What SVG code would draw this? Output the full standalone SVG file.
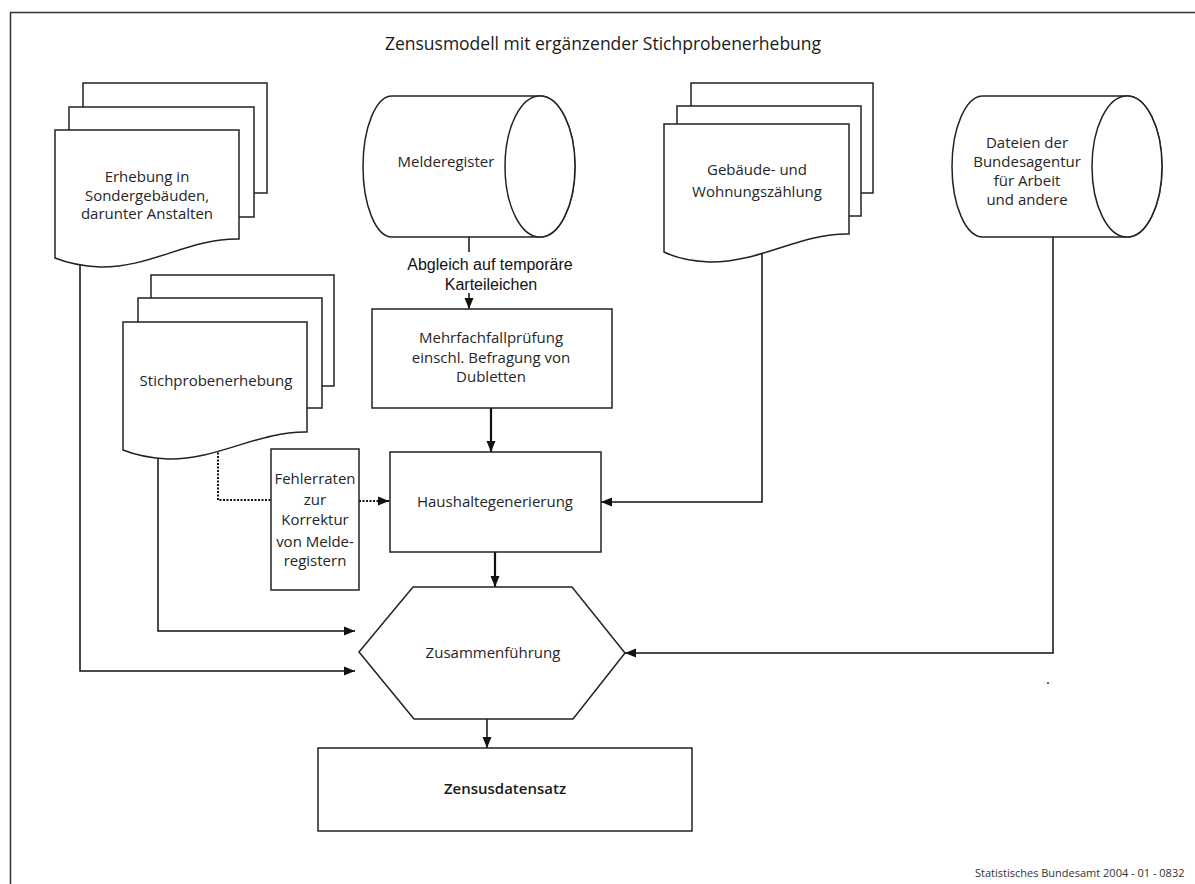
<svg xmlns="http://www.w3.org/2000/svg" width="1195" height="884" viewBox="0 0 1195 884">
<style>
.shape{fill:#fff;stroke:#222;stroke-width:1.5}
.t{font-family:"Open Sans","Noto Sans",sans-serif;font-size:15px;fill:#262626;text-anchor:middle}
.a{font-family:"Liberation Sans",Arial,sans-serif;font-size:16px;fill:#111;text-anchor:middle}
.c{fill:none;stroke:#111;stroke-width:1.5}
.thick{stroke-width:2.2}
.dot{fill:none;stroke:#111;stroke-width:2;stroke-dasharray:2 1.5}
</style>
<defs>
<marker id="ah" markerUnits="userSpaceOnUse" markerWidth="12" markerHeight="10" refX="11" refY="5" orient="auto">
<path d="M0,0.5 L11,5 L0,9.5 Z" fill="#111"/>
</marker>
</defs>
<rect width="1195" height="884" fill="#fff"/>
<rect x="10.5" y="12.5" width="1200" height="900" fill="none" stroke="#333" stroke-width="1.5"/>
<text x="603" y="50" class="t" style="font-size:17.5px;fill:#1a1a1a">Zensusmodell mit ergänzender Stichprobenerhebung</text>

<g id="connectors">
<path class="c" d="M80,263 V671 H355" marker-end="url(#ah)"/>
<path class="c" d="M158,457 V631 H355" marker-end="url(#ah)"/>
<path class="dot" d="M218,449 V500 H271"/>
<path class="dot" d="M359,501 H389" marker-end="url(#ah)"/>
<path class="c" d="M469,237 V252"/>
<path class="c" d="M469,293 V309" marker-end="url(#ah)"/>
<path class="c thick" d="M491,408 V452" marker-end="url(#ah)"/>
<path class="c" d="M762,253 V502 H601" marker-end="url(#ah)"/>
<path class="c thick" d="M495,552 V587" marker-end="url(#ah)"/>
<path class="c" d="M1053,237 V653 H625" marker-end="url(#ah)"/>
<path class="c" d="M487,719 V748" marker-end="url(#ah)"/>
</g>

<g id="erhebung">
<rect class="shape" x="83" y="83" width="184" height="110"/>
<rect class="shape" x="69" y="107" width="185" height="110"/>
<path class="shape" d="M55,130 H239 V239 C190,238 150,268 100,267 C80,266 65,262 55,258 Z"/>
<text class="t" x="147" y="182">Erhebung in</text>
<text class="t" x="147" y="201">Sondergebäuden,</text>
<text class="t" x="147" y="219">darunter Anstalten</text>
</g>

<g id="melderegister">
<path class="shape" d="M392,96 H540 A35,70.5 0 0 1 540,237 H392 A29,70.5 0 0 1 392,96 Z"/>
<ellipse class="shape" cx="540" cy="166.5" rx="35" ry="70.5"/>
<text class="t" x="446" y="167">Melderegister</text>
</g>

<g id="abgleich-label">
<text class="a" x="490" y="270">Abgleich auf temporäre</text>
<text class="a" x="491" y="290">Karteileichen</text>
</g>

<g id="gebaeude">
<rect class="shape" x="691" y="83" width="182" height="110"/>
<rect class="shape" x="677" y="106" width="184" height="110"/>
<path class="shape" d="M664,124 H849 V234 C800,233 760,263 709,262 C689,261 674,257 664,252 Z"/>
<text class="t" x="757" y="175">Gebäude- und</text>
<text class="t" x="757" y="197">Wohnungszählung</text>
</g>

<g id="dateien">
<path class="shape" d="M983,96 H1127 A35,70.5 0 0 1 1127,237 H983 A31,70.5 0 0 1 983,96 Z"/>
<ellipse class="shape" cx="1127" cy="166.5" rx="35" ry="70.5"/>
<text class="t" x="1027" y="148">Dateien der</text>
<text class="t" x="1027" y="167">Bundesagentur</text>
<text class="t" x="1027" y="186">für Arbeit</text>
<text class="t" x="1027" y="205">und andere</text>
</g>

<g id="stichprobe">
<rect class="shape" x="151" y="275" width="183" height="111"/>
<rect class="shape" x="138" y="298" width="184" height="110"/>
<path class="shape" d="M123,322 H307 V432 C258,431 218,460 168,459 C148,458 133,454 123,450 Z"/>
<text class="t" x="216" y="386">Stichprobenerhebung</text>
</g>

<g id="mehrfach">
<rect class="shape" x="372" y="309" width="240" height="99"/>
<text class="t" x="491" y="343">Mehrfachfallprüfung</text>
<text class="t" x="491" y="363">einschl. Befragung von</text>
<text class="t" x="491" y="382">Dubletten</text>
</g>

<g id="fehlerraten">
<rect class="shape" x="271" y="449" width="88" height="141"/>
<text class="t" x="315" y="484">Fehlerraten</text>
<text class="t" x="315" y="505">zur</text>
<text class="t" x="315" y="525">Korrektur</text>
<text class="t" x="315" y="547">von Melde-</text>
<text class="t" x="315" y="566">registern</text>
</g>

<g id="haushalte">
<rect class="shape" x="390" y="452" width="211" height="100"/>
<text class="t" x="495" y="507">Haushaltegenerierung</text>
</g>

<g id="zusammen">
<polygon class="shape" points="413,587 572,587 625,653 573,719 414,719 359,652"/>
<text class="t" x="493" y="658">Zusammenführung</text>
</g>

<g id="zensus">
<rect class="shape" x="318" y="748" width="374" height="83"/>
<text class="t" x="505" y="794" style="font-weight:600;fill:#1a1a1a">Zensusdatensatz</text>
</g>

<circle cx="1048" cy="683" r="1" fill="#333"/>
<text x="975" y="877" style="font-family:'Open Sans','Noto Sans',sans-serif;font-size:11px;fill:#333">Statistisches Bundesamt  2004 - 01 - 0832</text>
</svg>
